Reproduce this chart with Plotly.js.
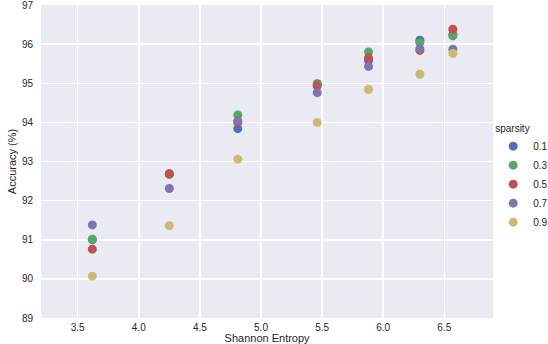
<!DOCTYPE html>
<html>
<head>
<meta charset="utf-8">
<script src="https://cdn.plot.ly/plotly-3.0.1.min.js"></script>
<style>html,body{margin:0;padding:0;background:#fff;}#chart{width:548px;height:344px;}</style>
</head>
<body>
<div id="chart"></div>
<script>
const entropy = [3.62, 4.25, 4.81, 5.46, 5.88, 6.30, 6.57];
const sparsityLabels = ["0.1", "0.3", "0.5", "0.7", "0.9"];
const acc_01 = [91.00, 92.68, 93.84, 94.99, 95.58, 96.10, 96.24];
const acc_03 = [91.01, 92.67, 94.19, 94.96, 95.80, 96.04, 96.21];
const acc_05 = [90.76, 92.69, 94.00, 94.93, 95.65, 95.84, 96.38];
const acc_07 = [91.38, 92.31, 94.04, 94.76, 95.43, 95.88, 95.87];
const acc_09 = [90.07, 91.36, 93.06, 94.00, 94.84, 95.23, 95.76];
const colors = ["#4C72B0", "#55A868", "#C44E52", "#8172B2", "#CCB974"];
const series = [acc_01, acc_03, acc_05, acc_07, acc_09];

const traces = series.map((ys, i) => ({
  type: "scatter",
  mode: "markers",
  x: entropy,
  y: ys,
  name: sparsityLabels[i],
  marker: {color: colors[i], size: 9, line: {width: 0}}
}));

const font = {family: "Liberation Sans, Arial, sans-serif", size: 10, color: "#262626"};
const layout = {
  width: 548, height: 344,
  margin: {l: 41, r: 53, t: 5, b: 26},
  paper_bgcolor: "#ffffff",
  plot_bgcolor: "#EAEAF2",
  font: font,
  showlegend: true,
  legend: {
    title: {text: "sparsity", font: {size: 10}},
    xref: "container", yref: "container",
    x: 0.9, xanchor: "left", y: 0.655, yanchor: "top",
    font: {size: 10}, itemwidth: 30, tracegroupgap: 0,
    bgcolor: "rgba(0,0,0,0)"
  },
  xaxis: {
    range: [3.2, 6.9], dtick: 0.5, tick0: 3.5, tickformat: ".1f",
    showgrid: true, gridcolor: "#ffffff", gridwidth: 1.5,
    zeroline: false, showline: false, ticks: "", ticklabelstandoff: 2,
    ticklabeloverflow: "allow",
    title: {text: "Shannon Entropy", font: {size: 11}, standoff: 7}
  },
  yaxis: {
    range: [88.9999, 97.0001], dtick: 1, tick0: 89,
    showgrid: true, gridcolor: "#ffffff", gridwidth: 1.5,
    zeroline: false, showline: false, ticks: "", ticklabelstandoff: 7,
    ticklabeloverflow: "allow",
    title: {text: "Accuracy (%)", font: {size: 11}, standoff: 3}
  }
};
Plotly.newPlot("chart", traces, layout, {displayModeBar: false, staticPlot: true});
</script>
</body>
</html>
